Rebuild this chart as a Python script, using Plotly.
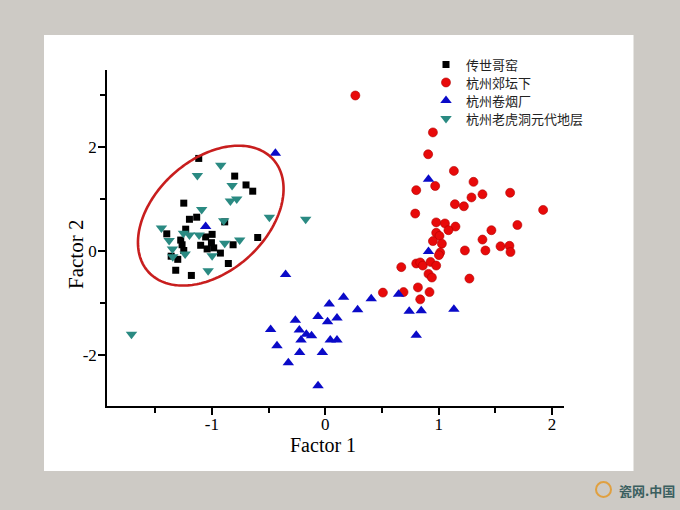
import numpy as np
import plotly.graph_objects as go

# ---------------- data ----------------
series_names = ["传世哥窑", "杭州郊坛下", "杭州卷烟厂", "杭州老虎洞元代地层"]

geyao_x = [-1.116, -0.799, -0.699, -0.640, -1.248, -1.134, -1.198, -0.887, -1.231, -1.398,
           -0.998, -1.055, -0.596, -1.275, -1.004, -1.099, -1.263, -0.813, -1.042, -0.984,
           -1.248, -0.925, -1.359, -1.301, -0.855, -1.319, -1.181]
geyao_y = [1.78, 1.44, 1.27, 1.15, 0.92, 0.65, 0.61, 0.56, 0.42, 0.33,
           0.32, 0.27, 0.26, 0.21, 0.16, 0.11, 0.12, 0.12, 0.04, 0.06,
           0.01, -0.04, -0.10, -0.16, -0.24, -0.37, -0.47]

jiaotan_x = [0.265, 0.949, 0.907, 1.134, 1.307, 0.802, 0.969, 1.386, 1.289, 1.630,
             1.921, 1.143, 1.222, 0.793, 0.978, 1.055, 1.148, 1.086, 1.694, 1.465,
             0.978, 1.007, 1.386, 1.545, 1.624, 1.633, 0.949, 1.028, 1.231, 1.412,
             1.013, 1.002, 0.802, 0.837, 0.860, 0.928, 0.978, 0.670, 0.910, 0.940,
             1.271, 0.817, 0.919, 0.508, 0.690, 0.837]
jiaotan_y = [2.99, 2.28, 1.86, 1.54, 1.33, 1.17, 1.25, 1.09, 1.03, 1.12,
             0.79, 0.90, 0.86, 0.72, 0.55, 0.53, 0.47, 0.40, 0.50, 0.40,
             0.35, 0.29, 0.22, 0.09, 0.10, -0.02, 0.19, 0.14, 0.01, 0.01,
             -0.03, -0.08, -0.24, -0.22, -0.28, -0.21, -0.28, -0.31, -0.44, -0.51,
             -0.53, -0.70, -0.79, -0.80, -0.79, -0.93]

juanyan_x = [-0.44, -1.055, -0.35, 0.161, 0.035, 0.405, 0.285, 0.646, 0.740, 0.846,
             1.134, 0.802, -0.264, -0.064, 0.103, 0.020, -0.482, -0.229, -0.167, -0.121,
             -0.214, 0.044, 0.103, -0.426, -0.226, -0.026, -0.326, -0.064, 0.910, 0.910]
juanyan_y = [1.88, 0.47, -0.45, -0.89, -1.02, -0.92, -1.13, -0.83, -1.16, -1.15,
             -1.12, -1.62, -1.33, -1.26, -1.29, -1.36, -1.51, -1.52, -1.60, -1.63,
             -1.71, -1.71, -1.71, -1.82, -1.95, -1.95, -2.15, -2.59, -0.01, 1.38]

laohudong_x = [-1.128, -0.922, -0.822, -0.837, -0.781, -1.090, -0.493, -0.173, -0.896, -1.445,
               -1.251, -1.198, -1.113, -1.377, -0.755, -0.887, -1.348, -1.236, -1.345, -0.998,
               -1.033, -1.709]
laohudong_y = [1.45, 1.65, 1.26, 0.96, 1.00, 0.80, 0.65, 0.61, 0.58, 0.44,
               0.34, 0.31, 0.31, 0.20, 0.21, 0.15, 0.04, -0.06, -0.11, -0.09,
               -0.38, -1.60]

x_ticks = [-1, 0, 1, 2]
y_ticks = [-2, 0, 2]

# ellipse (data-space center, pixel-space semi axes & tilt)
ell_cx, ell_cy = -1.01, 0.68
ell_a_px, ell_b_px, ell_ang_deg = 84, 56, 42

# ---------------- layout geometry ----------------
W, H = 680, 510
L, R, T, B = 107, 116, 70, 104
x_range = [-1.925, 2.105]
y_range = [-2.98, 3.48]
pw, ph = W - L - R, H - T - B
sx = pw / (x_range[1] - x_range[0])
sy = ph / (y_range[1] - y_range[0])


def px_x(p):
    return (p - L) / pw


def px_y(p):
    return (H - B - p) / ph


serif = "Liberation Serif, Times New Roman, serif"
cjk = "Liberation Serif, Noto Sans CJK SC, serif"
bg = "#cdcac5"

fig = go.Figure()

fig.add_trace(go.Scatter(x=geyao_x, y=geyao_y, mode="markers", name=series_names[0],
                         legend="legend",
                         marker=dict(symbol="square", size=7, color="#000000",
                                     line=dict(width=0))))
fig.add_trace(go.Scatter(x=jiaotan_x, y=jiaotan_y, mode="markers", name=series_names[1],
                         legend="legend2",
                         marker=dict(symbol="circle", size=9, color="#e80a0a",
                                     line=dict(width=0.6, color="#b00000"))))
fig.add_trace(go.Scatter(x=juanyan_x, y=juanyan_y, mode="markers", name=series_names[2],
                         legend="legend3",
                         marker=dict(symbol="triangle-up", size=10, color="#0a0ac8",
                                     line=dict(width=0))))
fig.add_trace(go.Scatter(x=laohudong_x, y=laohudong_y, mode="markers", name=series_names[3],
                         legend="legend4",
                         marker=dict(symbol="triangle-down", size=10, color="#2a8a82",
                                     line=dict(width=0))))

# ellipse outline
t = np.linspace(0, 2 * np.pi, 200)
ang = np.deg2rad(ell_ang_deg)
ex = ell_cx + (ell_a_px * np.cos(t) * np.cos(ang) - ell_b_px * np.sin(t) * np.sin(ang)) / sx
ey = ell_cy + (ell_a_px * np.cos(t) * np.sin(ang) + ell_b_px * np.sin(t) * np.cos(ang)) / sy
path = "M " + " L ".join(f"{a:.4f},{b:.4f}" for a, b in zip(ex, ey)) + " Z"
fig.add_shape(type="path", path=path, xref="x", yref="y",
              line=dict(color="#c81e1e", width=2.6))

# white slide panel
fig.add_shape(type="rect", xref="paper", yref="paper", layer="below",
              x0=px_x(44), x1=px_x(633.5), y0=px_y(471), y1=px_y(35),
              fillcolor="white", line=dict(width=0))

# axis titles
fig.add_annotation(text="Factor 1", xref="paper", yref="paper", x=px_x(323), y=px_y(445),
                   showarrow=False, font=dict(family=serif, size=20, color="black"),
                   xanchor="center", yanchor="middle")
fig.add_annotation(text="Factor 2", xref="paper", yref="paper", x=px_x(76), y=px_y(255),
                   showarrow=False, textangle=-90, font=dict(family=serif, size=21, color="black"),
                   xanchor="center", yanchor="middle")

# watermark
fig.add_shape(type="circle", xref="paper", yref="paper",
              x0=px_x(596), x1=px_x(611), y0=px_y(497), y1=px_y(482),
              line=dict(color="#e0a040", width=2), fillcolor="rgba(0,0,0,0)")
fig.add_annotation(text="<b>瓷网.中国</b>", xref="paper", yref="paper", x=px_x(617), y=px_y(490),
                   showarrow=False, xanchor="left", yanchor="middle",
                   font=dict(family="Noto Sans CJK SC", size=13, color="#3b5f5f"))


def leg(yc):
    return dict(x=px_x(426), y=px_y(yc), xanchor="left", yanchor="middle",
                bgcolor="rgba(0,0,0,0)", borderwidth=0,
                font=dict(family=cjk, size=13, color="#222222"), itemwidth=30)


fig.update_layout(
    width=W, height=H,
    margin=dict(l=L, r=R, t=T, b=B, pad=0),
    paper_bgcolor=bg,
    plot_bgcolor="white",
    showlegend=True,
    legend=leg(64.5), legend2=leg(82.5), legend3=leg(100.5), legend4=leg(118.5),
    xaxis=dict(range=x_range, showgrid=False, zeroline=False,
               showline=True, linecolor="black", linewidth=1.5,
               ticks="outside", ticklen=7, tickwidth=1.5, tickcolor="black",
               tickvals=x_ticks, ticktext=[str(v) for v in x_ticks],
               ticklabelstandoff=-5,
               tickfont=dict(family=serif, size=17, color="black"),
               minor=dict(dtick=0.5, tick0=0, ticks="outside", ticklen=5, tickwidth=1.5,
                          tickcolor="black", showgrid=False)),
    yaxis=dict(range=y_range, showgrid=False, zeroline=False,
               showline=True, linecolor="black", linewidth=1.5,
               ticks="outside", ticklen=7, tickwidth=1.5, tickcolor="black",
               tickvals=y_ticks, ticktext=[str(v) for v in y_ticks],
               ticklabelstandoff=-2,
               tickfont=dict(family=serif, size=17, color="black"),
               minor=dict(dtick=1, tick0=0, ticks="outside", ticklen=5, tickwidth=1.5,
                          tickcolor="black", showgrid=False)),
)

fig.write_html(
    "out.html",
    config={"displayModeBar": False},
    post_script=f"document.body.style.margin='0';document.body.style.background='{bg}';",
)
